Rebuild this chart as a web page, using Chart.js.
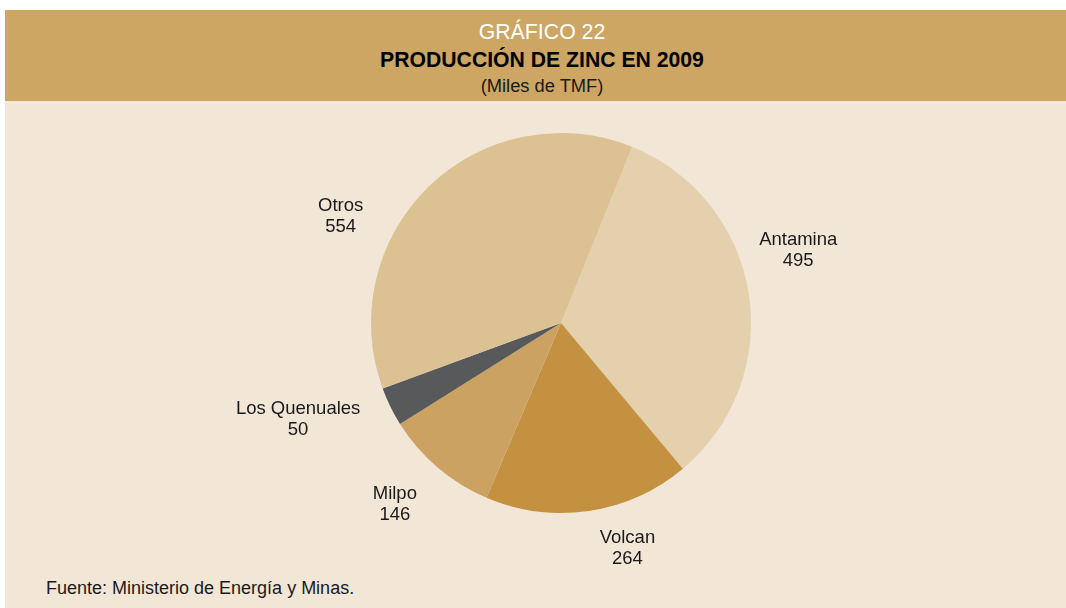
<!DOCTYPE html>
<html>
<head>
<meta charset="utf-8">
<script src="https://cdn.jsdelivr.net/npm/chart.js@4/dist/chart.umd.min.js"></script>
<style>
  html, body { margin: 0; padding: 0; background: #ffffff; }
  body { width: 1066px; height: 608px; position: relative; overflow: hidden; font-family: "Liberation Sans", Arial, sans-serif; }
  #panel { position: absolute; left: 5px; top: 10px; width: 1061px; height: 598px; background: #f2e6d7; }
  #header { position: absolute; left: 5px; top: 10px; width: 1061px; height: 91px; background: #cda663; }
  #header div { position: absolute; left: 0; width: 1074px; text-align: center; }
  #header .num { top: 10px; color: #ffffff; font-size: 21.3px; }
  #header .title { top: 38px; color: #000000; font-size: 21.2px; font-weight: bold; }
  #header .unit { top: 65px; color: #1a1a1a; font-size: 18.3px; }
  #source { position: absolute; left: 46px; top: 578px; font-size: 18px; color: #1a1a1a; }
  #chartWrap { position: absolute; left: 0; top: 0; width: 1066px; height: 608px; }
</style>
</head>
<body>
<div id="panel"></div>
<div id="header">
  <div class="num">GRÁFICO 22</div>
  <div class="title">PRODUCCIÓN DE ZINC EN 2009</div>
  <div class="unit">(Miles de TMF)</div>
</div>
<div id="source">Fuente: Ministerio de Energía y Minas.</div>
<div id="chartWrap"><canvas id="zincChart" width="1066" height="608"></canvas></div>

<script>
// Data (miles de TMF)
const companies = ["Antamina", "Volcan", "Milpo", "Los Quenuales", "Otros"];
const production = [495, 264, 146, 50, 554];
const sliceColors = ["#e5d0ae", "#c3913f", "#cca263", "#58595b", "#dcc193"];

// Label placement around the pie (angle nudge in degrees, distance from centre)
const labelNudge = [-8, -8, 2, 6, -20];
const labelDistance = [248, 235, 246, 280, 245];

const outsideLabels = {
  id: "outsideLabels",
  afterDatasetsDraw(chart) {
    const ctx = chart.ctx;
    const meta = chart.getDatasetMeta(0);
    ctx.save();
    ctx.font = "18.5px 'Liberation Sans', Arial, sans-serif";
    ctx.fillStyle = "#1a1a1a";
    ctx.textAlign = "center";
    ctx.textBaseline = "middle";
    meta.data.forEach((arc, i) => {
      const p = arc.getProps(["x", "y", "startAngle", "endAngle"], true);
      const mid = (p.startAngle + p.endAngle) / 2 + labelNudge[i] * Math.PI / 180;
      const lx = p.x + labelDistance[i] * Math.cos(mid);
      const ly = p.y + labelDistance[i] * Math.sin(mid);
      ctx.fillText(chart.data.labels[i], lx, ly - 10.5);
      ctx.fillText(String(chart.data.datasets[0].data[i]), lx, ly + 10.5);
    });
    ctx.restore();
  }
};

const ctx = document.getElementById("zincChart").getContext("2d");

new Chart(ctx, {
  type: "pie",
  data: {
    labels: companies,
    datasets: [
      {
        data: production,
        backgroundColor: sliceColors,
        borderWidth: 0
      }
    ]
  },
  options: {
    responsive: false,
    animation: false,
    rotation: 22,
    layout: {
      padding: { left: 371, right: 315, top: 133, bottom: 95 }
    },
    plugins: {
      legend: { display: false },
      tooltip: { enabled: false }
    }
  },
  plugins: [outsideLabels]
});
</script>
</body>
</html>
